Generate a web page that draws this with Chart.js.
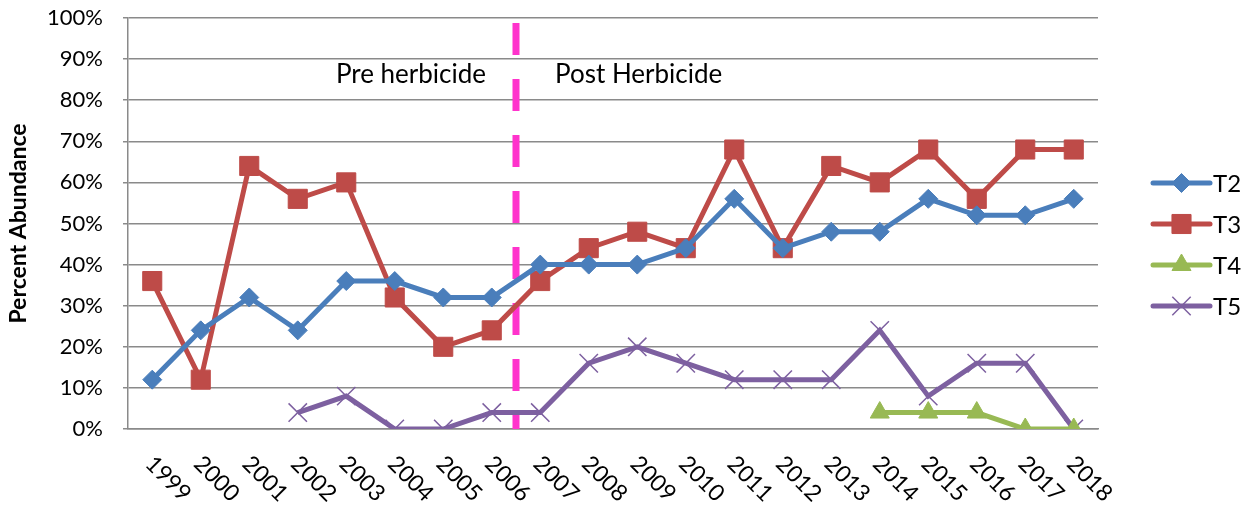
<!DOCTYPE html>
<html>
<head>
<meta charset="utf-8">
<script src="https://cdn.jsdelivr.net/npm/chart.js@4.4.0/dist/chart.umd.min.js"></script>
<style>
  html, body { margin: 0; padding: 0; background: #fff; }
  #wrap { width: 1252px; height: 506px; position: relative; }
</style>
</head>
<body>
<div id="wrap"><canvas id="myChart"></canvas></div>
<script>
// Años (categorías)
var years = ['1999', '2000', '2001', '2002', '2003', '2004', '2005', '2006', '2007', '2008',
             '2009', '2010', '2011', '2012', '2013', '2014', '2015', '2016', '2017', '2018'];

// Porcentaje de abundancia por transecto
var t2 = [12, 24, 32, 24, 36, 36, 32, 32, 40, 40, 40, 44, 56, 44, 48, 48, 56, 52, 52, 56];
var t3 = [36, 12, 64, 56, 60, 32, 20, 24, 36, 44, 48, 44, 68, 44, 64, 60, 68, 56, 68, 68];
var t4 = [null, null, null, null, null, null, null, null, null, null,
          null, null, null, null, null, 4, 4, 4, 0, 0];
var t5 = [null, null, null, 4, 8, 0, 0, 4, 4, 16, 20, 16, 12, 12, 12, 24, 8, 16, 16, 0];

var seriesNames = ['T2', 'T3', 'T4', 'T5'];
var yTicks = [0, 10, 20, 30, 40, 50, 60, 70, 80, 90, 100];

// La línea del herbicida va entre estos dos años
var herbicideBetween = ['2006', '2007'];
var preText = 'Pre herbicide';
var postText = 'Post Herbicide';

var FONT = 'Lato, "Open Sans", sans-serif';

// Plugin: línea discontinua, textos, etiquetas del eje X y leyenda
var extras = {
  id: 'extras',
  beforeDatasetsDraw: function (chart) {
    var ctx = chart.ctx, x = chart.scales.x, area = chart.chartArea;
    var lx = (x.getPixelForValue(years.indexOf(herbicideBetween[0])) +
              x.getPixelForValue(years.indexOf(herbicideBetween[1]))) / 2;
    ctx.save();
    ctx.strokeStyle = '#FF33CC';
    ctx.lineWidth = 7;
    ctx.setLineDash([32, 24]);
    ctx.beginPath();
    ctx.moveTo(lx, area.top + 5);
    ctx.lineTo(lx, area.bottom);
    ctx.stroke();
    ctx.restore();
  },
  afterDraw: function (chart) {
    var ctx = chart.ctx, x = chart.scales.x, area = chart.chartArea;
    var lx = (x.getPixelForValue(years.indexOf(herbicideBetween[0])) +
              x.getPixelForValue(years.indexOf(herbicideBetween[1]))) / 2;
    ctx.save();
    ctx.fillStyle = '#000';
    ctx.font = '26px ' + FONT;
    ctx.textBaseline = 'alphabetic';
    ctx.textAlign = 'right';
    ctx.fillText(preText, lx - 30, area.top + 65);
    ctx.textAlign = 'left';
    ctx.fillText(postText, lx + 39, area.top + 65);

    // etiquetas del eje X giradas 45°
    ctx.font = '23px ' + FONT;
    ctx.textAlign = 'left';
    ctx.textBaseline = 'middle';
    years.forEach(function (y, i) {
      var px = x.getPixelForTick(i);
      ctx.save();
      ctx.translate(px - 3, area.bottom + 31);
      ctx.rotate(Math.PI / 4);
      ctx.fillText(y, 0, 0);
      ctx.restore();
    });

    // leyenda
    var lx0 = area.right + 55, lineW = 57;
    var cy = (area.top + area.bottom) / 2 + 21;
    chart.data.datasets.forEach(function (ds, i) {
      var yy = cy + (i - 1.5) * 41;
      ctx.strokeStyle = ds.borderColor;
      ctx.lineWidth = 5;
      ctx.lineCap = 'round';
      ctx.setLineDash([]);
      ctx.beginPath();
      ctx.moveTo(lx0, yy);
      ctx.lineTo(lx0 + lineW, yy);
      ctx.stroke();
      ctx.lineCap = 'butt';
      ctx.fillStyle = ds.pointBackgroundColor;
      ctx.strokeStyle = ds.pointBorderColor;
      ctx.lineWidth = ds.pointBorderWidth;
      if (Chart.helpers && Chart.helpers.drawPoint) {
        Chart.helpers.drawPoint(ctx, {
          pointStyle: ds.pointStyle, rotation: 0,
          radius: ds.pointRadius, borderWidth: ds.pointBorderWidth
        }, lx0 + lineW / 2, yy);
      }
      ctx.fillStyle = '#000';
      ctx.font = '24px ' + FONT;
      ctx.textAlign = 'left';
      ctx.textBaseline = 'middle';
      ctx.fillText(ds.label, lx0 + lineW + 3, yy + 1);
    });
    ctx.restore();
  }
};

function serie(label, data, color, style, radius, bw) {
  return {
    label: label,
    data: data,
    borderColor: color,
    backgroundColor: color,
    borderWidth: 5,
    pointStyle: style,
    pointRadius: radius,
    pointHoverRadius: radius,
    pointBackgroundColor: color,
    pointBorderColor: color,
    pointBorderWidth: bw,
    tension: 0,
    spanGaps: false
  };
}

var ctx = document.getElementById('myChart').getContext('2d');
var myChart = new Chart(ctx, {
  type: 'line',
  data: {
    labels: years,
    datasets: [
      serie(seriesNames[0], t2, '#4A7EBB', 'rectRot', 9.5, 1),
      serie(seriesNames[1], t3, '#BE4B48', 'rect', 13.5, 1),
      serie(seriesNames[2], t4, '#98B954', 'triangle', 11, 1),
      serie(seriesNames[3], t5, '#7D60A0', 'crossRot', 13, 1.5)
    ]
  },
  plugins: [extras],
  options: {
    responsive: true,
    maintainAspectRatio: false,
    animation: false,
    layout: { padding: { left: 0, right: 154, top: 18, bottom: 0 } },
    plugins: {
      legend: { display: false },
      tooltip: { enabled: false }
    },
    scales: {
      x: {
        offset: true,
        grid: { display: false },
        border: { display: true, color: '#8a8a8a', width: 1.5 },
        ticks: { display: false },
        afterFit: function (s) { s.height = 77; s.paddingLeft = 0; s.paddingRight = 0; }
      },
      y: {
        min: 0,
        max: 100,
        afterBuildTicks: function (s) {
          s.ticks = yTicks.map(function (v) { return { value: v }; });
        },
        afterFit: function (s) { s.width = 128; s.paddingTop = 0; s.paddingBottom = 0; },
        grid: { color: '#8a8a8a', lineWidth: 1.5, tickLength: 5 },
        border: { display: true, color: '#8a8a8a', width: 1.5 },
        ticks: {
          color: '#000',
          padding: 20,
          font: { family: FONT, size: 22 },
          callback: function (v) { return v + '%'; }
        },
        title: {
          display: true,
          text: 'Percent Abundance',
          color: '#000',
          padding: { top: 5, bottom: 0 },
          font: { family: FONT, size: 23, weight: 'bold' }
        }
      }
    }
  }
});
</script>
</body>
</html>
